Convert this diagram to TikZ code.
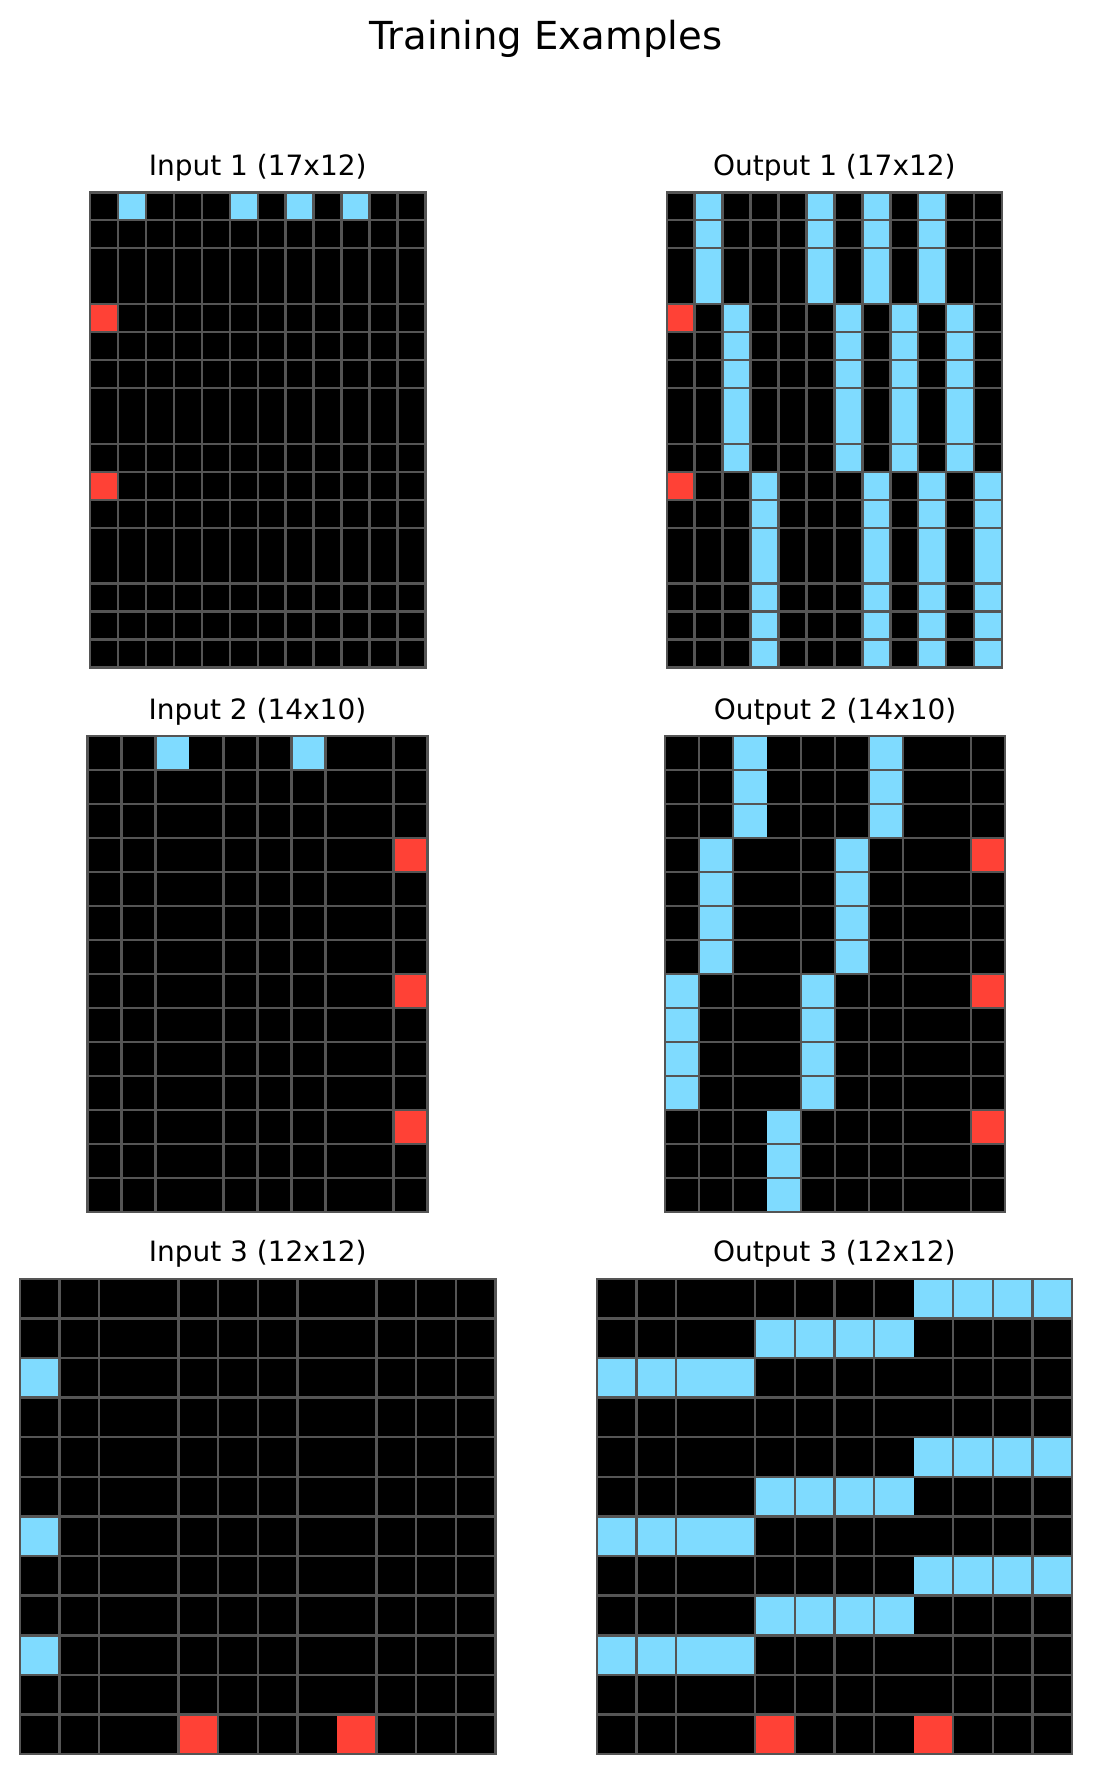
\documentclass[tikz,border=0pt]{standalone}
\usepackage{fontspec}
\setmainfont{DejaVu Sans}
\usetikzlibrary{positioning}
\definecolor{arcblue}{HTML}{7FDBFF}
\definecolor{arcred}{HTML}{FF4136}
\definecolor{gridgray}{HTML}{555555}
\tikzset{
  gridline/.style={
    draw=gridgray,
    line width=2.4pt
  },
  bluecell/.style={fill=arcblue},
  redcell/.style={fill=arcred},
  paneltitle/.style={
    font=\fontsize{28}{32}\selectfont,
    anchor=base,
    inner sep=0pt
  },
  figtitle/.style={
    font=\fontsize{38.6}{42}\selectfont,
    anchor=base,
    inner sep=0pt
  }
}

\begin{document}
\begin{tikzpicture}[x=1pt, y=-1pt]
  \path[fill=white, use as bounding box] (0,0) rectangle (1092,1774);

  \node[figtitle] (figtitle) at (546, 50) {Training Examples};

  % titles
  \node[paneltitle] (in1title) at (257.7, 175.5) {Input 1 (17x12)};
  \node[paneltitle] (out1title) at (834.4, 175.5) {Output 1 (17x12)};
  \node[paneltitle] (in2title) at (257.4, 719.2) {Input 2 (14x10)};
  \node[paneltitle] (out2title) at (835.1, 719.2) {Output 2 (14x10)};
  \node[paneltitle] (in3title) at (257.7, 1261.9) {Input 3 (12x12)};
  \node[paneltitle] (out3title) at (834.4, 1261.9) {Output 3 (12x12)};

  % Input 1
  \begin{scope}[xshift=90pt, yshift=-192.3pt, x=27.95pt, y=-27.95pt]
    \fill[black] (0,0) rectangle (12,17);
    \foreach \c in {1,5,7,9} \fill[bluecell] (\c,0) rectangle ++(1,1);
    \foreach \r in {4,10} \fill[redcell] (0,\r) rectangle ++(1,1);
    \foreach \c in {1,...,11} \draw[gridline] (\c,0) -- (\c,17);
    \foreach \r in {1,2,4,5,6,7,9,10,11,12,14,15,16} \draw[gridline] (0,\r) -- (12,\r);
    \draw[gridline] (0,0) rectangle (12,17);
  \end{scope}

  % Output 1
  \begin{scope}[xshift=666.7pt, yshift=-192.3pt, x=27.95pt, y=-27.95pt]
    \fill[black] (0,0) rectangle (12,17);
    \foreach \c/\a/\b in {1/0/4, 5/0/4, 7/0/4, 9/0/4,
                          2/4/10, 6/4/10, 8/4/10, 10/4/10,
                          3/10/17, 7/10/17, 9/10/17, 11/10/17}
      \fill[bluecell] (\c,\a) rectangle (\c+1,\b);
    \foreach \r in {4,10} \fill[redcell] (0,\r) rectangle ++(1,1);
    \foreach \c in {1,...,11} \draw[gridline] (\c,0) -- (\c,17);
    \foreach \r in {1,2,4,5,6,7,9,10,11,12,14,15,16} \draw[gridline] (0,\r) -- (12,\r);
    \draw[gridline] (0,0) rectangle (12,17);
  \end{scope}

  % Input 2
  \begin{scope}[xshift=87.3pt, yshift=-736pt, x=34.02pt, y=-34.02pt]
    \fill[black] (0,0) rectangle (10,14);
    \foreach \c in {2,6} \fill[bluecell] (\c,0) rectangle ++(1,1);
    \foreach \r in {3,7,11} \fill[redcell] (9,\r) rectangle ++(1,1);
    \foreach \c in {1,2,4,5,6,7,9} \draw[gridline] (\c,0) -- (\c,14);
    \foreach \r in {1,...,13} \draw[gridline] (0,\r) -- (10,\r);
    \draw[gridline] (0,0) rectangle (10,14);
  \end{scope}

  % Output 2
  \begin{scope}[xshift=665pt, yshift=-736pt, x=34.02pt, y=-34.02pt]
    \fill[black] (0,0) rectangle (10,14);
    \foreach \c/\a/\b in {2/0/3, 6/0/3, 1/3/7, 5/3/7, 0/7/11, 4/7/11, 3/11/14}
      \fill[bluecell] (\c,\a) rectangle (\c+1,\b);
    \foreach \r in {3,7,11} \fill[redcell] (9,\r) rectangle ++(1,1);
    \foreach \c in {1,2,4,5,6,7,9} \draw[gridline] (\c,0) -- (\c,14);
    \foreach \r in {1,...,13} \draw[gridline] (0,\r) -- (10,\r);
    \draw[gridline] (0,0) rectangle (10,14);
  \end{scope}

  % Input 3
  \begin{scope}[xshift=20pt, yshift=-1278.7pt, x=39.62pt, y=-39.62pt]
    \fill[black] (0,0) rectangle (12,12);
    \foreach \r in {2,6,9} \fill[bluecell] (0,\r) rectangle ++(1,1);
    \foreach \c in {4,8} \fill[redcell] (\c,11) rectangle ++(1,1);
    \foreach \c in {1,2,4,5,6,7,9,10,11} \draw[gridline] (\c,0) -- (\c,12);
    \foreach \r in {1,...,11} \draw[gridline] (0,\r) -- (12,\r);
    \draw[gridline] (0,0) rectangle (12,12);
  \end{scope}

  % Output 3
  \begin{scope}[xshift=596.7pt, yshift=-1278.7pt, x=39.62pt, y=-39.62pt]
    \fill[black] (0,0) rectangle (12,12);
    \foreach \r/\a in {0/8, 1/4, 2/0, 4/8, 5/4, 6/0, 7/8, 8/4, 9/0}
      \fill[bluecell] (\a,\r) rectangle (\a+4,\r+1);
    \foreach \c in {4,8} \fill[redcell] (\c,11) rectangle ++(1,1);
    \foreach \c in {1,2,4,5,6,7,9,10,11} \draw[gridline] (\c,0) -- (\c,12);
    \foreach \r in {1,...,11} \draw[gridline] (0,\r) -- (12,\r);
    \draw[gridline] (0,0) rectangle (12,12);
  \end{scope}
\end{tikzpicture}
\end{document}
